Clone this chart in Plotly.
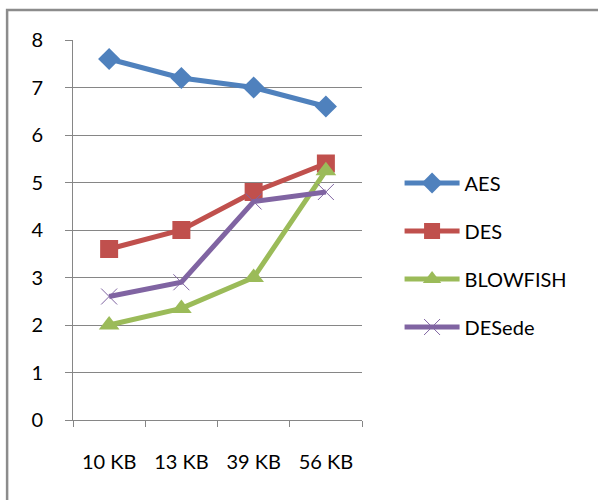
import plotly.graph_objects as go

sizes = ["10 KB", "13 KB", "39 KB", "56 KB"]
aes = [7.6, 7.2, 7.0, 6.6]
des = [3.6, 4.0, 4.8, 5.4]
blowfish = [2.0, 2.35, 3.0, 5.25]
desede = [2.6, 2.9, 4.6, 4.8]

series = [
    ("AES", aes, "#4F81BD", dict(symbol="diamond", size=17)),
    ("DES", des, "#C0504D", dict(symbol="square", size=18)),
    ("BLOWFISH", blowfish, "#9BBB59", dict(symbol="triangle-up", size=18)),
    ("DESede", desede, "#8064A2", dict(symbol="x-thin-open", size=16,
                                        line=dict(width=1, color="#9B87BE"))),
]

fig = go.Figure()
for name, vals, color, mk in series:
    marker = dict(color=color, **mk)
    fig.add_trace(go.Scatter(
        x=sizes, y=vals, name=name, mode="lines+markers",
        line=dict(color=color, width=5), marker=marker,
        legendgroup=name,
    ))

font = dict(family="Lato, Open Sans, sans-serif", size=20, color="#000000")

fig.update_layout(
    width=598, height=500,
    margin=dict(l=73, r=236, t=40, b=80),
    paper_bgcolor="white", plot_bgcolor="white",
    font=font,
    showlegend=True,
    legend=dict(x=1.13, y=0.675, xanchor="left", yanchor="top",
                tracegroupgap=19, font=font, itemwidth=55),
    xaxis=dict(type="category", tickson="boundaries", ticks="outside",
               ticklen=6, tickcolor="#868686", showline=True,
               linecolor="#868686", linewidth=1, showgrid=False,
               ticklabelstandoff=24, range=[-0.5, 3.5]),
    yaxis=dict(range=[0, 8], dtick=1, ticks="outside", ticklen=7,
               tickcolor="#868686", showline=True, linecolor="#868686",
               linewidth=1, showgrid=True, gridcolor="#868686",
               gridwidth=1, ticklabelstandoff=18, zeroline=False),
    shapes=[dict(type="rect", xref="paper", yref="paper",
                 x0=-0.228, x1=1.9, y0=-0.3, y1=1.079,
                 line=dict(color="#8C8C8C", width=2.5))],
)

fig.write_html("out.html")
